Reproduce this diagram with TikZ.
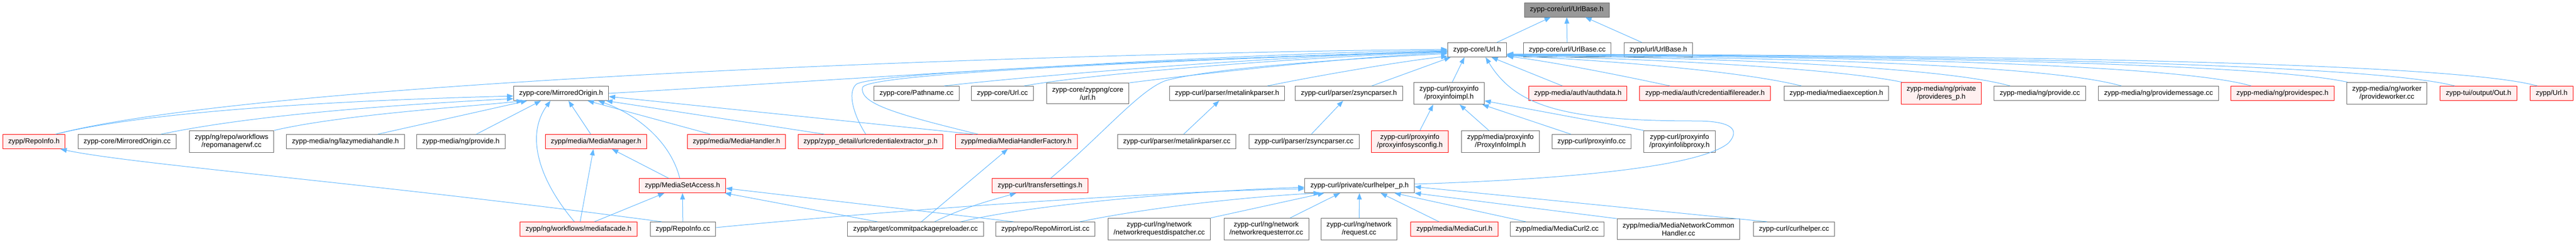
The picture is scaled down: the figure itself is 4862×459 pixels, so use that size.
\documentclass[tikz,border=0pt]{standalone}
\usepackage{fontspec}
\setmainfont{Liberation Sans}
\usepackage{tikz}
\usetikzlibrary{arrows.meta}

\definecolor{edgeblue}{HTML}{63B8FF}
\definecolor{nodegray}{HTML}{666666}
\definecolor{nodered}{HTML}{FF0000}
\definecolor{nodepink}{HTML}{FFF0F0}
\definecolor{rootgray}{HTML}{999999}

\newcommand{\nodefont}{\fontsize{13.3pt}{15pt}\selectfont}

\tikzset{
  gnode/.style={draw=nodegray, fill=white, line width=1pt, inner xsep=10.5pt,
    inner ysep=7pt, minimum height=27pt, align=center, font=\nodefont},
  rnode/.style={gnode, draw=nodered, fill=nodepink},
  rootnode/.style={gnode, fill=rootgray},
  dep/.style={draw=edgeblue, line width=1pt, -{Triangle[length=12pt,width=9pt]}},
}

\begin{document}
\begin{tikzpicture}[x=1pt,y=-1pt]
		\useasboundingbox (0,0) rectangle (4862,459);

		% Root
		\node[rootnode] (ubh) at (2957,18.5) {zypp-core/url/UrlBase.h};

		% Row 1
		\node[gnode] (urlh) at (2788,94) {zypp-core/Url.h};
		\node[gnode] (ubcc) at (2958,94) {zypp-core/url/UrlBase.cc};
		\node[gnode] (zubh) at (3130,94) {zypp/url/UrlBase.h};

		% Row 2
		\node[gnode] (moh) at (1059,176) {zypp-core/MirroredOrigin.h};
		\node[gnode] (pathcc) at (1730,176) {zypp-core/Pathname.cc};
		\node[gnode] (urlcc) at (1892,176) {zypp-core/Url.cc};
		\node[gnode] (ngurl) at (2053,176) {zypp-core/zyppng/core\\/url.h};
		\node[gnode] (mlph) at (2316,176) {zypp-curl/parser/metalinkparser.h};
		\node[gnode] (zsph) at (2546,176) {zypp-curl/parser/zsyncparser.h};
		\node[gnode] (pimplh) at (2735,176) {zypp-curl/proxyinfo\\/proxyinfoimpl.h};
		\node[rnode] (authh) at (2978,176) {zypp-media/auth/authdata.h};
		\node[rnode] (credh) at (3218,176) {zypp-media/auth/credentialfilereader.h};
		\node[gnode] (mexh) at (3466,176) {zypp-media/mediaexception.h};
		\node[rnode] (presh) at (3664,176) {zypp-media/ng/private\\/provideres\_p.h};
		\node[gnode] (provcc) at (3850,176) {zypp-media/ng/provide.cc};
		\node[gnode] (pmsgcc) at (4074,176) {zypp-media/ng/providemessage.cc};
		\node[rnode] (pspech) at (4308,176) {zypp-media/ng/providespec.h};
		\node[gnode] (pworkcc) at (4505,176) {zypp-media/ng/worker\\/provideworker.cc};
		\node[rnode] (outh) at (4678,176) {zypp-tui/output/Out.h};
		\node[rnode] (zurlh) at (4816,176) {zypp/Url.h};

		% Row 3
		\node[rnode] (rih) at (64,267) {zypp/RepoInfo.h};
		\node[gnode] (mocc) at (240,267) {zypp-core/MirroredOrigin.cc};
		\node[gnode] (rmwf) at (437,267) {zypp/ng/repo/workflows\\/repomanagerwf.cc};
		\node[gnode] (lmh) at (652,267) {zypp-media/ng/lazymediahandle.h};
		\node[gnode] (provh) at (870,267) {zypp-media/ng/provide.h};
		\node[rnode] (mmh) at (1125,267) {zypp/media/MediaManager.h};
		\node[rnode] (mhh) at (1390,267) {zypp/media/MediaHandler.h};
		\node[rnode] (uceh) at (1643,267) {zypp/zypp\_detail/urlcredentialextractor\_p.h};
		\node[rnode] (mhfh) at (1918,267) {zypp/media/MediaHandlerFactory.h};
		\node[gnode] (mlpcc) at (2221,267) {zypp-curl/parser/metalinkparser.cc};
		\node[gnode] (zspcc) at (2461,267) {zypp-curl/parser/zsyncparser.cc};
		\node[rnode] (psysh) at (2661,267) {zypp-curl/proxyinfo\\/proxyinfosysconfig.h};
		\node[gnode] (zpimplh) at (2832,267) {zypp/media/proxyinfo\\/ProxyInfoImpl.h};
		\node[gnode] (picc) at (3004,267) {zypp-curl/proxyinfo.cc};
		\node[gnode] (plibh) at (3170,267) {zypp-curl/proxyinfo\\/proxyinfolibproxy.h};

		% Row 4
		\node[rnode] (msah) at (1288,350) {zypp/MediaSetAccess.h};
		\node[rnode] (tsh) at (1963,350) {zypp-curl/transfersettings.h};
		\node[gnode] (chph) at (2566,350) {zypp-curl/private/curlhelper\_p.h};

		% Row 5
		\node[rnode] (mfh) at (1092,432) {zypp/ng/workflows/mediafacade.h};
		\node[gnode] (ricc) at (1289,432) {zypp/RepoInfo.cc};
		\node[gnode] (cppcc) at (1728,432) {zypp/target/commitpackagepreloader.cc};
		\node[gnode] (rmlcc) at (1973,432) {zypp/repo/RepoMirrorList.cc};
		\node[gnode] (nrdcc) at (2188,432) {zypp-curl/ng/network\\/networkrequestdispatcher.cc};
		\node[gnode] (nrecc) at (2390,432) {zypp-curl/ng/network\\/networkrequesterror.cc};
		\node[gnode] (reqcc) at (2565,432) {zypp-curl/ng/network\\/request.cc};
		\node[rnode] (mch) at (2745,432) {zypp/media/MediaCurl.h};
		\node[gnode] (mc2cc) at (2939,432) {zypp/media/MediaCurl2.cc};
		\node[gnode] (mnchcc) at (3168,432) {zypp/media/MediaNetworkCommon\\Handler.cc};
		\node[gnode] (chcc) at (3386,432) {zypp-curl/curlhelper.cc};

		% into UrlBase.h
		\draw[dep] ([xshift=37pt]urlh.north) -- ([xshift=-30pt]ubh.south);
		\draw[dep] (ubcc) -- (ubh);
		\draw[dep] ([xshift=-31pt]zubh.north) -- ([xshift=35pt]ubh.south);

		% into Url.h, from the left
		\draw[dep] ([xshift=41pt]rih.north) .. controls (500,150) and (2000,100) .. ([yshift=1pt]urlh.west);
		\draw[dep] (moh.east) .. controls (1600,150) and (2300,100) .. ([yshift=-1pt]urlh.west);
		\draw[dep] ([xshift=52pt]pathcc.north) .. controls (1900,148) and (2350,108) .. ([yshift=-3pt]urlh.west);
		\draw[dep] ([xshift=41pt]urlcc.north) .. controls (2050,140) and (2450,108) .. ([yshift=-4pt]urlh.west);
		\draw[dep] (ngurl.north east) .. controls (2300,135) and (2550,108) .. ([yshift=-5pt]urlh.west);
		\draw[dep] ([xshift=76pt]mlph.north) .. controls (2500,140) and (2650,115) .. ([yshift=2pt]urlh.south west);
		\draw[dep] ([xshift=43pt]zsph.north) -- ([xshift=6pt]urlh.south west);
		\draw[dep] ([xshift=6pt]pimplh.north) -- ([xshift=32pt]urlh.south west);
		\draw[dep] ([xshift=-9pt]uceh.north) .. controls (1610,215) and (1600,175) .. (1615,160)
			.. controls (1630,135) and (2350,108) .. ([yshift=-2pt]urlh.west);
		\draw[dep] ([xshift=-72pt]mhfh.north) .. controls (1690,215) and (1622,195) .. (1628,165)
			.. controls (1634,135) and (2350,110) .. ([yshift=-2pt]urlh.west);
		\draw[dep] ([xshift=20pt]tsh.north) .. controls (2080,255) and (2150,170) .. (2200,152)
			.. controls (2300,125) and (2600,108) .. ([yshift=-7pt]urlh.west);
		\draw[dep] ([yshift=3pt]chph.east) .. controls (2900,340) and (3200,320) .. (3262,270)
			.. controls (3285,245) and (3270,228) .. (3200,228)
			.. controls (2950,228) and (2860,200) .. ([xshift=16pt]urlh.south);

		% into Url.h, from the right
		\draw[dep] ([xshift=-29pt]authh.north) -- ([xshift=27pt]urlh.south);
		\draw[dep] ([xshift=-66pt]credh.north) .. controls (3050,140) and (2920,115) .. ([yshift=2pt]urlh.south east);
		\draw[dep] ([xshift=-66pt]mexh.north) .. controls (3280,132) and (3000,112) .. ([yshift=3pt]urlh.south east);
		\draw[dep] ([xshift=2pt]presh.north west) .. controls (3460,128) and (3100,110) .. ([yshift=3pt]urlh.south east);
		\draw[dep] ([xshift=-56pt]provcc.north) .. controls (3660,124) and (3200,108) .. ([yshift=4pt]urlh.south east);
		\draw[dep] ([xshift=-70pt]pmsgcc.north) .. controls (3860,120) and (3300,107) .. ([yshift=4pt]urlh.south east);
		\draw[dep] ([xshift=-59pt]pspech.north) .. controls (4100,118) and (3400,106) .. ([yshift=5pt]urlh.south east);
		\draw[dep] ([xshift=2pt]pworkcc.north west) .. controls (4260,117) and (3450,105) .. ([yshift=5pt]urlh.south east);
		\draw[dep] ([xshift=-45pt]outh.north) .. controls (4460,116) and (3500,104) .. ([yshift=6pt]urlh.south east);
		\draw[dep] ([xshift=-27pt]zurlh.north) .. controls (4620,114) and (3600,103) .. ([yshift=6pt]urlh.south east);

		% into MirroredOrigin.h
		\draw[dep] ([xshift=41pt]rih.north) .. controls (300,205) and (700,188) .. ([yshift=-5pt]moh.west);
		\draw[dep] ([xshift=64pt]mocc.north) .. controls (500,212) and (800,195) .. ([yshift=-10pt]moh.west);
		\draw[dep] (rmwf.north east) .. controls (650,215) and (900,200) .. ([xshift=18pt]moh.south west);
		\draw[dep] ([xshift=61pt]lmh.north) -- ([xshift=26pt]moh.south west);
		\draw[dep] ([xshift=29pt]provh.north) -- ([xshift=-38pt]moh.south);
		\draw[dep] ([xshift=-8pt]mfh.north) .. controls (1010,330) and (995,250) .. ([xshift=-20pt]moh.south);
		\draw[dep] ([xshift=-10pt]mmh.north) -- ([xshift=14pt]moh.south);
		\draw[dep] ([xshift=-49pt]mhh.north) -- ([xshift=50pt]moh.south);
		\draw[dep] ([xshift=-5pt]msah.north) .. controls (1265,265) and (1200,215) .. ([xshift=-20pt]moh.south east);
		\draw[dep] ([xshift=-87pt]uceh.north) -- ([xshift=-5pt]moh.south east);
		\draw[dep] ([xshift=-80pt]mhfh.north) -- ([yshift=-6pt]moh.east);

		% into MediaManager.h and MediaSetAccess.h
		\draw[dep] ([xshift=3pt]mfh.north) -- ([xshift=-5pt]mmh.south);
		\draw[dep] ([xshift=-26pt]msah.north) -- ([xshift=30pt]mmh.south);
		\draw[dep] ([xshift=30pt]mfh.north) -- ([xshift=-34pt]msah.south);
		\draw[dep] (ricc) -- (msah);
		\draw[dep] ([xshift=-72pt]cppcc.north) -- ([xshift=-2pt]msah.south east);
		\draw[dep] ([xshift=-60pt]rmlcc.north) -- ([yshift=-5pt]msah.east);

		% into RepoInfo.h
		\draw[dep] ([xshift=-40pt]ricc.north) .. controls (700,345) and (250,310) .. ([xshift=50pt]rih.south);

		% into curlhelper_p.h
		\draw[dep] ([yshift=3pt]ricc.east) .. controls (1700,395) and (2200,360) .. ([yshift=-6pt]chph.west);
		\draw[dep] ([xshift=86pt]cppcc.north) .. controls (1950,385) and (2250,360) .. ([yshift=-3pt]chph.west);
		\draw[dep] ([xshift=65pt]rmlcc.north) .. controls (2200,385) and (2400,368) .. ([xshift=29pt]chph.south west);
		\draw[dep] (nrdcc.north east) -- ([xshift=37pt]chph.south west);
		\draw[dep] ([xshift=45pt]nrecc.north) -- ([xshift=67pt]chph.south west);
		\draw[dep] (reqcc) -- (chph);
		\draw[dep] ([xshift=-29pt]mch.north) -- ([xshift=40pt]chph.south);
		\draw[dep] ([xshift=-59pt]mc2cc.north) -- ([xshift=66pt]chph.south);
		\draw[dep] (mnchcc.north west) -- (chph.south east);
		\draw[dep] ([xshift=-51pt]chcc.north) -- ([yshift=-2pt]chph.east);

		% the rest
		\draw[dep] ([xshift=11pt]cppcc.north) -- ([xshift=-16pt]mhfh.south);
		\draw[dep] ([xshift=36pt]cppcc.north) .. controls (1820,390) and (1880,375) .. ([xshift=-45pt]tsh.south);
		\draw[dep] ([xshift=13pt]mlpcc.north) -- ([xshift=-15pt]mlph.south);
		\draw[dep] ([xshift=14pt]zspcc.north) -- ([xshift=-11pt]zsph.south);
		\draw[dep] ([xshift=19pt]psysh.north) -- ([xshift=-30pt]pimplh.south);
		\draw[dep] ([xshift=-22pt]zpimplh.north) -- ([xshift=20pt]pimplh.south);
		\draw[dep] ([xshift=-39pt]picc.north) -- ([xshift=-4pt]pimplh.south east);
		\draw[dep] (plibh.north west) -- ([yshift=-14pt]pimplh.east);
	\end{tikzpicture}
\end{document}
